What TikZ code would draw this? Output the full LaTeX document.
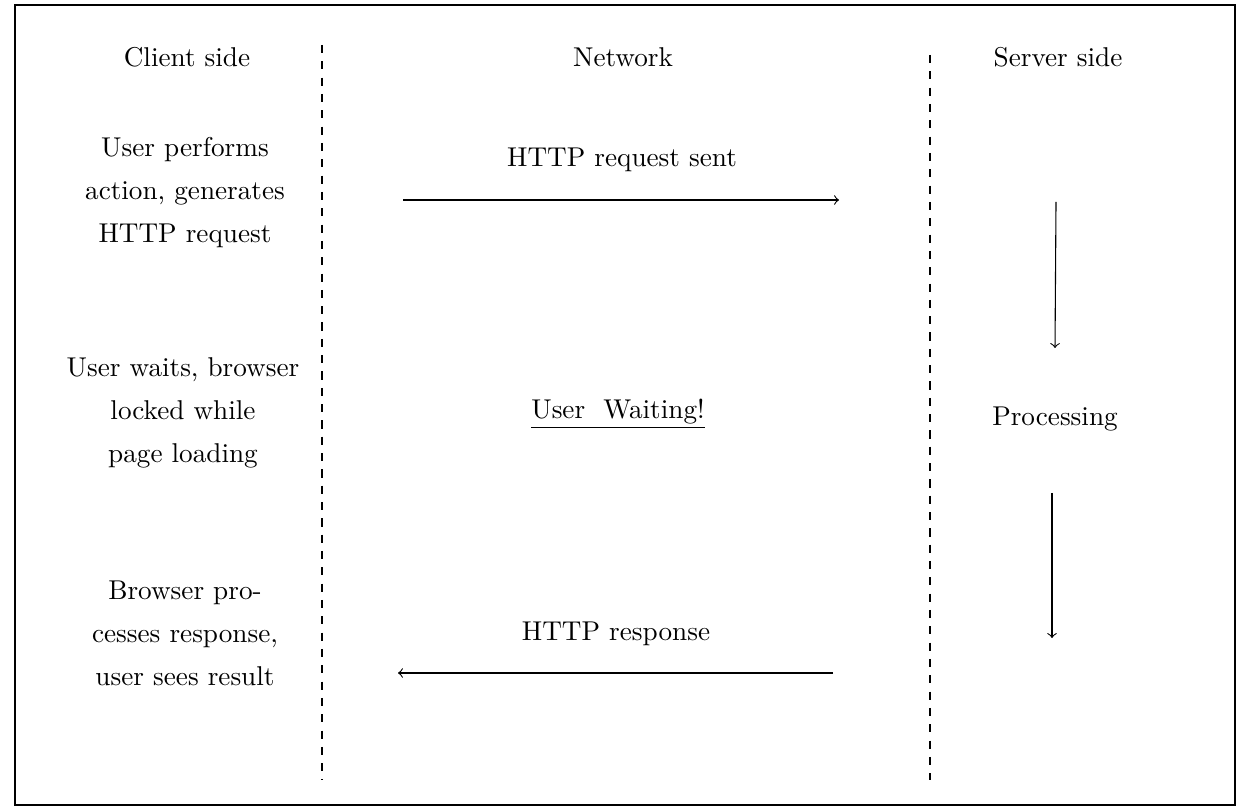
\documentclass[tikz,border=0pt]{standalone}
\begin{document}
\begin{tikzpicture}[x=0.3676pt,y=-0.3676pt,
  lbl/.style={font=\fontsize{10}{15.8}\selectfont, align=center, inner sep=0pt},
  sep/.style={dashed, line width=0.4pt},
  flow/.style={->, line width=0.4pt}]
\useasboundingbox (0,0) rectangle (1242,807);
\draw[line width=0.5pt] (15,5) rectangle (1235,805);

% headers
\node[lbl] (hc) at (187,57) {Client side};
\node[lbl] (hn) at (623,57) {Network};
\node[lbl] (hs) at (1058,57) {Server side};

% separators
\coordinate (s1t) at (322,45);
\coordinate (s1b) at (322,780);
\coordinate (s2t) at (930,55);
\coordinate (s2b) at (930,780);
\draw[sep] (s1t) -- (s1b);
\draw[sep] (s2t) -- (s2b);

% client side
\node[lbl] (c1) at (185,193) {User performs\\action, generates\\HTTP request};
\node[lbl] (c2) at (183,413) {User waits, browser\\locked while\\page loading};
\node[lbl] (c3) at (185,633) {Browser pro-\\cesses response,\\user sees result};

% network
\node[lbl] (nreq) at (622,160) {HTTP request sent};
\node[lbl] (nwait) at (618,414) {\underline{User\ \ Waiting!}};
\node[lbl] (nres) at (616,634) {HTTP response};
\coordinate (rqa) at (403,200);
\coordinate (rqb) at (839,200);
\coordinate (rsa) at (833,673);
\coordinate (rsb) at (398,673);
\draw[flow] (rqa) -- (rqb);
\draw[flow] (rsa) -- (rsb);

% server side
\node[lbl] (proc) at (1055,419) {Processing};
\coordinate (p1a) at (1056,202);
\coordinate (p1b) at (1055,348);
\coordinate (p2a) at (1052,493);
\coordinate (p2b) at (1052,638);
\draw[flow] (p1a) -- (p1b);
\draw[flow] (p2a) -- (p2b);
\end{tikzpicture}
\end{document}
